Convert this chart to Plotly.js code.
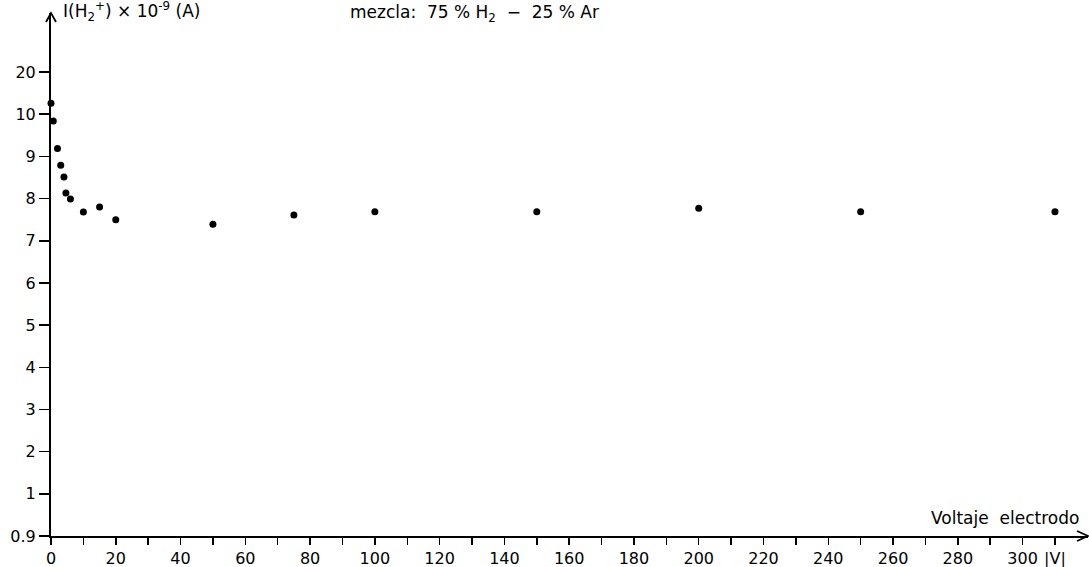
<!DOCTYPE html>
<html>
<head>
<meta charset="utf-8">
<script src="https://cdn.plot.ly/plotly-3.0.1.min.js"></script>
<style>html,body{margin:0;padding:0;background:#fff;}#chart{width:1089px;height:567px;}</style>
</head>
<body>
<div id="chart"></div>
<script>
// Electrode voltage |V|
const voltage = [0, 0.7, 2, 3, 4, 4.6, 6, 10, 15, 20, 50, 75, 100, 150, 200, 250, 310];
// Current I(H2+) x 1e-9 A, read on the chart's (evenly spaced) tick scale
const current = [10.26, 9.84, 9.19, 8.79, 8.51, 8.13, 7.99, 7.68, 7.80, 7.50, 7.39, 7.61, 7.69, 7.69, 7.77, 7.69, 7.69];

// Y tick labels (equally spaced on the original chart)
const yTickVals = [0, 1, 2, 3, 4, 5, 6, 7, 8, 9, 10, 11];
const yTickText = ['0.9', '1', '2', '3', '4', '5', '6', '7', '8', '9', '10', '20'];

// X labelled ticks every 20, last one is the unit
const xTickVals = [0, 20, 40, 60, 80, 100, 120, 140, 160, 180, 200, 220, 240, 260, 280, 300, 310];
const xTickText = ['0', '20', '40', '60', '80', '100', '120', '140', '160', '180', '200', '220', '240', '260', '280', '300', '|V|'];
// Unlabelled ticks in between
const xMinorVals = [10, 30, 50, 70, 90, 110, 130, 150, 170, 190, 210, 230, 250, 270, 290];

const font = {family: 'DejaVu Sans, Arial, sans-serif', size: 16, color: '#000'};

const trace = {
  x: voltage,
  y: current,
  mode: 'markers',
  type: 'scatter',
  marker: {color: '#000', size: 7},
  cliponaxis: false,
  hoverinfo: 'x+y'
};

const layout = {
  width: 1089,
  height: 567,
  margin: {l: 51, r: 1, t: 13, b: 31},
  paper_bgcolor: '#fff',
  plot_bgcolor: '#fff',
  showlegend: false,
  font: font,
  xaxis: {
    range: [0, 320.2],
    tickmode: 'array',
    tickvals: xTickVals,
    ticktext: xTickText,
    ticks: 'outside',
    ticklen: 7,
    tickwidth: 1.5,
    tickcolor: '#000',
    minor: {tickmode: 'array', tickvals: xMinorVals, ticks: 'outside', ticklen: 7, tickwidth: 1.5, tickcolor: '#000', showgrid: false},
    showline: true,
    linecolor: '#000',
    linewidth: 2,
    showgrid: false,
    zeroline: false,
    tickfont: font,
    fixedrange: true
  },
  yaxis: {
    range: [0, 12.4],
    tickmode: 'array',
    tickvals: yTickVals,
    ticktext: yTickText,
    ticks: 'outside',
    ticklen: 10,
    tickwidth: 1.5,
    tickcolor: '#000',
    showline: true,
    linecolor: '#000',
    linewidth: 2,
    showgrid: false,
    zeroline: false,
    tickfont: font,
    fixedrange: true
  },
  shapes: [
    {type: 'path', xref: 'paper', yref: 'paper', xsizemode: 'pixel', ysizemode: 'pixel', xanchor: 1, yanchor: 0,
     path: 'M-11,5 L0,0 L-11,-5', line: {color: '#000', width: 1.8}},
    {type: 'path', xref: 'paper', yref: 'paper', xsizemode: 'pixel', ysizemode: 'pixel', xanchor: 0, yanchor: 1,
     path: 'M-5,-9 L0,0 L5,-9', line: {color: '#000', width: 1.8}}
  ],
  annotations: [
    {xref: 'paper', yref: 'paper', x: 0, y: 1, xanchor: 'left', yanchor: 'middle', xshift: 10, yshift: 2,
     showarrow: false, text: 'I(H<sub>2</sub><sup>+</sup>) × 10<sup>-9</sup> (A)', font: {family: font.family, size: 17, color: '#000'}},
    {xref: 'paper', yref: 'paper', x: 0.286, y: 1, xanchor: 'left', yanchor: 'middle', yshift: 0,
     showarrow: false, text: 'mezcla:  75 % H<sub>2</sub>  −  25 % Ar', font: {family: font.family, size: 17, color: '#000'}},
    {xref: 'paper', yref: 'paper', x: 0.993, y: 0, xanchor: 'right', yanchor: 'bottom', yshift: 6,
     showarrow: false, text: 'Voltaje  electrodo', font: {family: font.family, size: 17, color: '#000'}}
  ]
};

Plotly.newPlot('chart', [trace], layout, {displayModeBar: false, staticPlot: true});
</script>
</body>
</html>
